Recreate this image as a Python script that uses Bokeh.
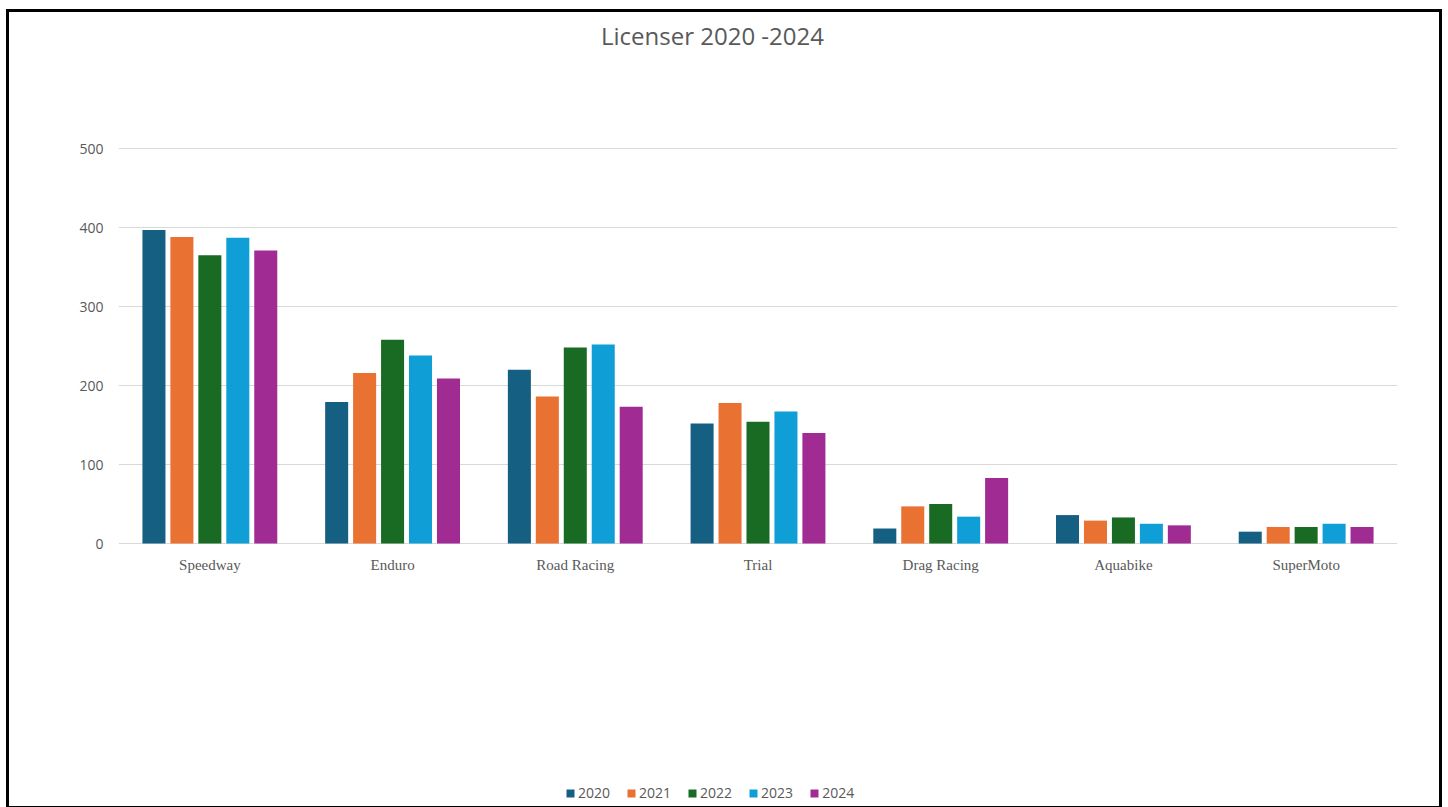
from bokeh.plotting import figure
from bokeh.models import (ColumnDataSource, FactorRange, Legend, LegendItem, FixedTicker,
                          Range1d, Label)
from bokeh.transform import dodge
from bokeh.embed import file_html
from bokeh.resources import INLINE

categories = ["Speedway", "Enduro", "Road Racing", "Trial", "Drag Racing", "Aquabike", "SuperMoto"]
years = ["2020", "2021", "2022", "2023", "2024"]
v2020 = [397, 179, 220, 152, 19, 36, 15]
v2021 = [388, 216, 186, 178, 47, 29, 21]
v2022 = [365, 258, 248, 154, 50, 33, 21]
v2023 = [387, 238, 252, 167, 34, 25, 25]
v2024 = [371, 209, 173, 140, 83, 23, 21]
y_ticks = [0, 100, 200, 300, 400, 500]
colors = ["#156082", "#E97132", "#196B24", "#0F9ED5", "#A02B93"]
title_text = "Licenser 2020 -2024"

src = ColumnDataSource(dict(cat=categories, base=[0] * len(categories),
                            y2020=v2020, y2021=v2021, y2022=v2022, y2023=v2023, y2024=v2024))

FONT = "Open Sans"
TXT = "#595959"

# frame covers the whole canvas height; value 0 sits at the chart baseline, 500 at the top gridline
p = figure(x_range=FactorRange(*categories), y_range=Range1d(-340.5, 672.2),
           width=1436, height=800, x_axis_location=None,
           output_backend="svg", toolbar_location=None,
           min_border_left=109, min_border_right=48, min_border_top=0, min_border_bottom=0,
           styles={"border": "3px solid black", "margin-left": "6px", "margin-top": "9px"})
p.outline_line_color = None
p.background_fill_color = "white"
p.border_fill_color = "white"

step = 0.153
bw = 0.126
items = []
for i, (yr, col) in enumerate(zip(years, colors)):
    r = p.vbar(x=dodge("cat", (i - 2) * step, range=p.x_range), top="y" + yr, bottom="base",
               width=bw, source=src, fill_color=col, line_color=None)
    items.append(LegendItem(label=yr, renderers=[r]))

# category labels under the baseline
p.text(x="cat", y="base", text="cat", source=src, y_offset=21,
       text_align="center", text_baseline="middle", text_font=FONT,
       text_font_size="15px", text_color=TXT)

p.xgrid.grid_line_color = None
p.ygrid.grid_line_color = "#D9D9D9"
p.ygrid.grid_line_width = 1
p.yaxis.ticker = FixedTicker(ticks=y_ticks)
p.yaxis.axis_line_color = None
p.yaxis.major_tick_line_color = None
p.yaxis.minor_tick_line_color = None
p.yaxis.major_tick_out = 0
p.yaxis.minor_tick_out = 0
p.yaxis.major_label_text_font = FONT
p.yaxis.major_label_text_font_size = "14px"
p.yaxis.major_label_text_color = TXT
p.yaxis.major_label_standoff = 15

title = Label(x=594, y=777, x_units="screen", y_units="screen", text=title_text,
              text_align="center", text_baseline="middle", text_font=FONT,
              text_font_size="24px", text_color=TXT)
p.add_layout(title)

legend = Legend(items=items, orientation="horizontal", location=(447, 10),
                label_text_font=FONT, label_text_font_size="14px", label_text_color=TXT,
                glyph_width=10, glyph_height=10, label_standoff=3, spacing=16,
                padding=0, margin=0, border_line_color=None, background_fill_alpha=0)
p.add_layout(legend, "center")

open("out.html", "w").write(file_html(p, INLINE))
